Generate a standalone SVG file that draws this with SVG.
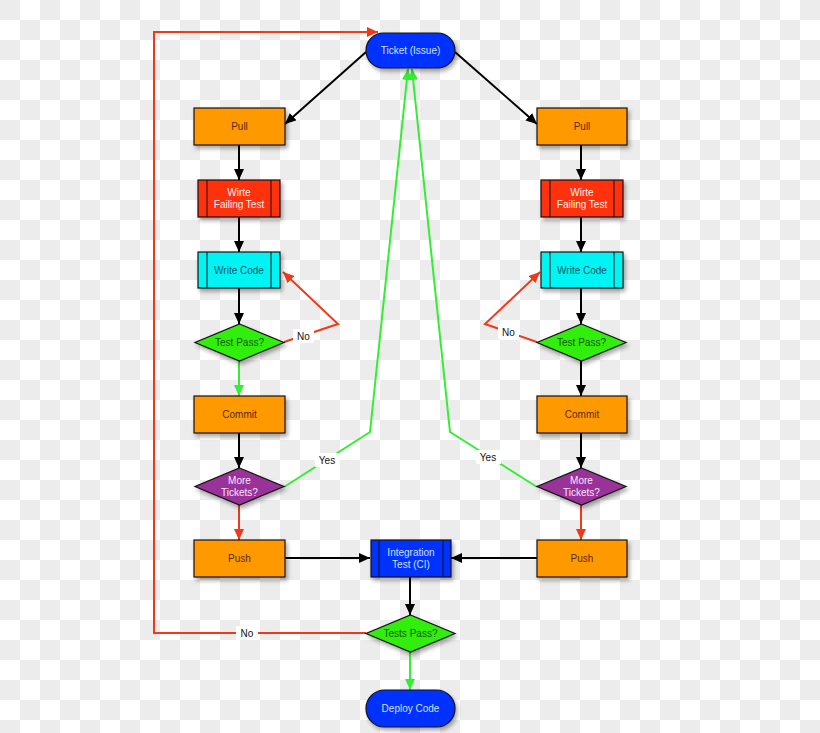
<svg xmlns="http://www.w3.org/2000/svg" width="820" height="733" viewBox="0 0 820 733">
<defs>
<pattern id="chk" x="0" y="0" width="40" height="40" patternUnits="userSpaceOnUse">
<rect width="40" height="40" fill="#ffffff"/>
<rect width="20" height="20" fill="#ececec"/>
<rect x="20" y="20" width="20" height="20" fill="#ececec"/>
</pattern>
<filter id="sh" x="-20%" y="-20%" width="150%" height="160%">
<feDropShadow dx="2" dy="3" stdDeviation="2" flood-color="#000" flood-opacity="0.35"/>
</filter>
<marker id="ab" markerUnits="userSpaceOnUse" markerWidth="12" markerHeight="10" refX="11" refY="5" orient="auto"><path d="M0,0 L11,5 L0,10 z" fill="#000"/></marker>
<marker id="ar" markerUnits="userSpaceOnUse" markerWidth="12" markerHeight="10" refX="11" refY="5" orient="auto"><path d="M0,0 L11,5 L0,10 z" fill="#ee3a1a"/></marker>
<marker id="ag" markerUnits="userSpaceOnUse" markerWidth="12" markerHeight="10" refX="11" refY="5" orient="auto"><path d="M0,0 L11,5 L0,10 z" fill="#33ee33"/></marker>
</defs>
<style>
text{font-family:"Liberation Sans",Arial,sans-serif;font-size:10px;text-anchor:middle}
.shape{stroke:#111;stroke-width:1.2;filter:url(#sh)}
.org{fill:#ff9900}
.red{fill:#ff3311}
.cyn{fill:#00f4f4}
.grn{fill:#33ee11}
.pur{fill:#993399}
.blu{fill:#0033ff}
.inner{stroke:#111;stroke-width:1}
.t-org{fill:#5a2a00}
.t-red{fill:#fff0ee}
.t-cyn{fill:#005566}
.t-grn{fill:#0f5a00}
.t-pur{fill:#ffe6ff}
.t-blu{fill:#cfe0ff}
.lb{stroke:#000;stroke-width:2;fill:none;marker-end:url(#ab)}
.lr{stroke:#ee3a1a;stroke-width:2;fill:none;marker-end:url(#ar)}
.lg{stroke:#33ee33;stroke-width:2;fill:none;marker-end:url(#ag)}
.lbl{fill:#fff}
.lt{fill:#111}
</style>
<rect width="820" height="733" fill="url(#chk)"/>

<g id="connectors">
<line class="lb" x1="366" y1="52" x2="285" y2="124"/>
<line class="lb" x1="455" y1="52" x2="537" y2="124"/>
<line class="lb" x1="239" y1="145" x2="239" y2="180"/>
<line class="lb" x1="239" y1="217" x2="239" y2="252"/>
<line class="lb" x1="239" y1="288" x2="239" y2="324"/>
<line class="lg" x1="239" y1="361" x2="239" y2="396"/>
<line class="lb" x1="239" y1="433" x2="239" y2="468"/>
<line class="lr" x1="239" y1="505" x2="239" y2="540"/>
<line class="lb" x1="581" y1="145" x2="581" y2="180"/>
<line class="lb" x1="581" y1="217" x2="581" y2="252"/>
<line class="lb" x1="581" y1="288" x2="581" y2="324"/>
<line class="lb" x1="581" y1="361" x2="581" y2="396"/>
<line class="lb" x1="581" y1="433" x2="581" y2="468"/>
<line class="lr" x1="581" y1="505" x2="581" y2="540"/>
<polyline class="lr" points="284,342 338,324 283,272"/>
<polyline class="lr" points="537,342 485,324 540,272"/>
<polyline class="lg" points="284,487 370,432 408,69"/>
<polyline class="lg" points="537,487 450,432 412,69"/>
<line class="lb" x1="285" y1="558" x2="370" y2="558"/>
<line class="lb" x1="537" y1="558" x2="451" y2="558"/>
<line class="lb" x1="410" y1="577" x2="410" y2="615"/>
<line class="lg" x1="410" y1="651" x2="410" y2="690"/>
<polyline class="lr" points="366,633 154,633 154,32 378,32"/>
<rect class="lbl" x="293" y="329" width="21" height="14"/>
<text class="lt" x="303.5" y="340">No</text>
<rect class="lbl" x="498" y="325" width="21" height="14"/>
<text class="lt" x="508.5" y="336">No</text>
<rect class="lbl" x="315" y="453" width="25" height="14"/>
<text class="lt" x="327" y="464">Yes</text>
<rect class="lbl" x="476" y="450" width="25" height="14"/>
<text class="lt" x="488" y="461">Yes</text>
<rect class="lbl" x="236" y="626" width="22" height="14"/>
<text class="lt" x="247" y="637">No</text>
</g>

<g id="ticket">
<rect class="shape blu" x="366" y="33" width="89" height="35" rx="17.5"/>
<text class="t-blu" x="410.5" y="54">Ticket (Issue)</text>
</g>

<g id="pull-left">
<rect class="shape org" x="194" y="108" width="91" height="37"/>
<text class="t-org" x="239.5" y="130">Pull</text>
</g>
<g id="failing-left">
<rect class="shape red" x="198" y="180" width="82" height="37"/>
<line class="inner" x1="207" y1="180" x2="207" y2="217"/>
<line class="inner" x1="271" y1="180" x2="271" y2="217"/>
<text class="t-red" x="239" y="196">Wirte</text>
<text class="t-red" x="239" y="208">Failing Test</text>
</g>
<g id="code-left">
<rect class="shape cyn" x="198" y="252" width="82" height="36"/>
<line class="inner" x1="207" y1="252" x2="207" y2="288"/>
<line class="inner" x1="271" y1="252" x2="271" y2="288"/>
<text class="t-cyn" x="239" y="274">Write Code</text>
</g>
<g id="testpass-left">
<polygon class="shape grn" points="239.5,324 284,342.5 239.5,361 195,342.5"/>
<text class="t-grn" x="239.5" y="346">Test Pass?</text>
</g>
<g id="commit-left">
<rect class="shape org" x="194" y="396" width="91" height="37"/>
<text class="t-org" x="239.5" y="418">Commit</text>
</g>
<g id="more-left">
<polygon class="shape pur" points="239.5,468 284,486.5 239.5,505 195,486.5"/>
<text class="t-pur" x="239.5" y="484">More</text>
<text class="t-pur" x="239.5" y="496">Tickets?</text>
</g>
<g id="push-left">
<rect class="shape org" x="194" y="540" width="91" height="37"/>
<text class="t-org" x="239.5" y="562">Push</text>
</g>

<g id="pull-right">
<rect class="shape org" x="537" y="108" width="90" height="37"/>
<text class="t-org" x="582" y="130">Pull</text>
</g>
<g id="failing-right">
<rect class="shape red" x="541" y="180" width="82" height="37"/>
<line class="inner" x1="550" y1="180" x2="550" y2="217"/>
<line class="inner" x1="614" y1="180" x2="614" y2="217"/>
<text class="t-red" x="582" y="196">Wirte</text>
<text class="t-red" x="582" y="208">Failing Test</text>
</g>
<g id="code-right">
<rect class="shape cyn" x="541" y="252" width="82" height="36"/>
<line class="inner" x1="550" y1="252" x2="550" y2="288"/>
<line class="inner" x1="614" y1="252" x2="614" y2="288"/>
<text class="t-cyn" x="582" y="274">Write Code</text>
</g>
<g id="testpass-right">
<polygon class="shape grn" points="581.5,324 626,342.5 581.5,361 537,342.5"/>
<text class="t-grn" x="581.5" y="346">Test Pass?</text>
</g>
<g id="commit-right">
<rect class="shape org" x="537" y="396" width="90" height="37"/>
<text class="t-org" x="582" y="418">Commit</text>
</g>
<g id="more-right">
<polygon class="shape pur" points="581.5,468 626,486.5 581.5,505 537,486.5"/>
<text class="t-pur" x="581.5" y="484">More</text>
<text class="t-pur" x="581.5" y="496">Tickets?</text>
</g>
<g id="push-right">
<rect class="shape org" x="537" y="540" width="90" height="37"/>
<text class="t-org" x="582" y="562">Push</text>
</g>

<g id="integration">
<rect class="shape blu" x="371" y="540" width="80" height="37"/>
<line class="inner" x1="379" y1="540" x2="379" y2="577"/>
<line class="inner" x1="443" y1="540" x2="443" y2="577"/>
<text class="t-blu" x="411" y="556">Integration</text>
<text class="t-blu" x="411" y="568">Test (CI)</text>
</g>
<g id="testspass">
<polygon class="shape grn" points="410.5,615 455,633.5 410.5,652 366,633.5"/>
<text class="t-grn" x="410.5" y="637">Tests Pass?</text>
</g>
<g id="deploy">
<rect class="shape blu" x="366" y="690" width="89" height="37" rx="18.5"/>
<text class="t-blu" x="410.5" y="712">Deploy Code</text>
</g>
</svg>
